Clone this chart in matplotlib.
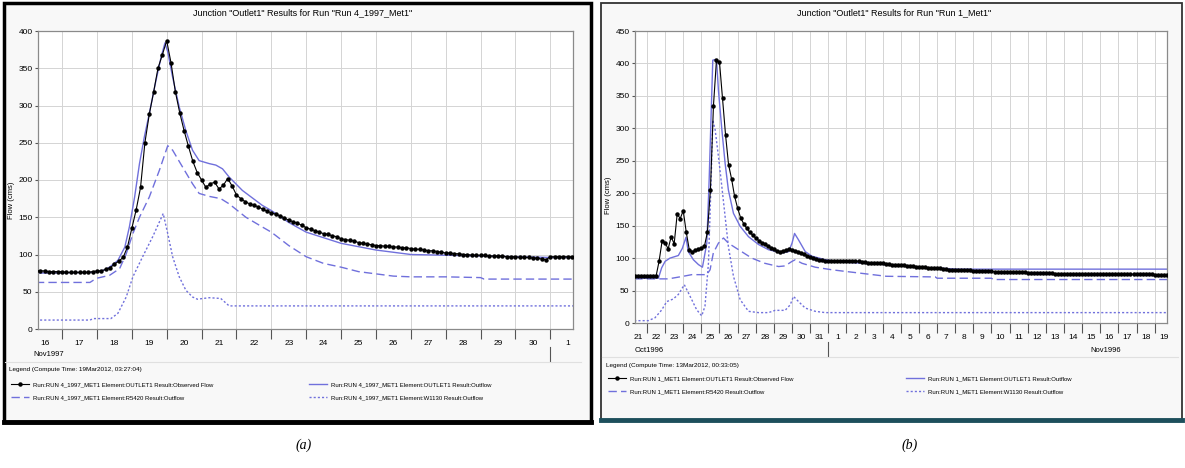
import numpy as np
import matplotlib
matplotlib.use("Agg")
import matplotlib.pyplot as plt
from matplotlib.patches import Rectangle
from matplotlib.lines import Line2D
from matplotlib.transforms import blended_transform_factory

plt.rcParams['font.family'] = ['Liberation Sans Narrow', 'Liberation Sans', 'DejaVu Sans']

# ---------------- (a) Run 4_1997_Met1, Nov 1997 (x = day of November) ----------------
obs_a_start, obs_a_step = 16.25, 0.125
obs_a = [
    78, 78, 78, 77, 77, 77,
    77, 76, 76, 76, 76, 76, 76, 77,
    78, 78, 80, 82, 87, 91, 96, 110,
    135, 160, 190, 250, 288, 318, 350, 368,
    387, 357, 318, 290, 266, 245, 225, 210,
    200, 190, 195, 197, 188, 193, 202, 192,
    180, 175, 171, 168, 166, 164, 161, 158,
    156, 154, 152, 149, 146, 144, 142, 139,
    136, 134, 132, 130, 128, 127, 125, 124,
    121, 120, 119, 118, 116, 115, 114, 113,
    112, 112, 111, 111, 110, 110, 109, 109,
    108, 107, 107, 106, 105, 105, 104, 103,
    102, 102, 101, 101, 100, 100, 99, 99,
    99, 99, 98, 98, 98, 98, 97, 97,
    97, 96, 96, 96, 95, 95, 94, 93,
    97, 97, 97, 97, 97, 97, 97,
]
out_a_t = [16.25, 17.9, 18.2, 18.36, 18.6, 18.8, 18.93, 19.08, 19.22, 19.36, 19.5, 19.69, 19.84,
           19.95, 20.03, 20.17, 20.36, 20.55, 20.74, 20.93, 21.22, 21.41, 21.6, 21.79, 22.17,
           22.74, 23.0, 23.5, 24.0, 25.0, 26.0, 27.0, 28.0, 29.0, 30.0, 31.0, 31.75]
out_a = [75, 76, 79, 83, 92, 110, 137, 177, 222, 258, 289, 333, 365,
         384, 372, 338, 298, 266, 240, 226, 222, 220, 215, 204, 186,
         166, 159, 143, 130, 115, 106, 100, 99, 98, 97, 96, 96]
r5420_a_t = [16.25, 17.8, 17.98, 18.36, 18.65, 18.84, 19.03, 19.22, 19.5, 19.79, 20.03, 20.17,
             20.46, 20.74, 20.93, 21.22, 21.55, 21.79, 22.27, 22.74, 23.0, 23.5, 24.0, 24.5,
             25.0, 25.5, 26.0, 26.5, 27.0, 28.0, 29.0, 29.1, 31.75]
r5420_a = [62.5, 62.5, 68, 72, 81, 101, 128, 150, 177, 213, 246, 240,
           217, 195, 182, 178, 175, 168, 150, 137, 130, 112, 97, 88,
           83, 77, 74, 71, 70, 70, 69, 67, 67]
w1130_a_t = [16.25, 17.8, 17.9, 18.4, 18.6, 18.84, 19.03, 19.31, 19.6, 19.9, 20.03, 20.17,
             20.36, 20.55, 20.74, 20.88, 21.22, 21.55, 21.79, 31.75]
w1130_a = [12, 12, 14, 14, 21, 43, 70, 97, 124, 155, 128, 97,
           70, 52, 43, 40, 42, 41, 31, 31]
days_a = list(range(16, 31)) + [1]

# ---------------- (b) Run 1_Met1, Oct-Nov 1996 (x = days since 30 Sep) ----------------
obs_b_start, obs_b_step = 21 + 2 / 6, 1 / 6
obs_b = [
    73, 73, 73, 72,
    72, 72, 73, 72, 95, 126,
    124, 114, 133, 122, 168, 161,
    173, 140, 113, 110, 112, 114,
    115, 118, 140, 205, 335, 405,
    402, 347, 290, 244, 222, 195,
    177, 162, 153, 146, 140, 135,
    131, 127, 124, 121, 118, 116,
    114, 111, 110, 111, 112, 114,
    112, 111, 110, 108, 106, 104,
    102, 100, 99, 97.5, 97, 96,
    96, 96, 96, 96, 96, 96,
    96, 95, 95, 95, 95, 94,
    94, 93, 93, 93, 92, 92,
    92, 91, 91, 90, 90, 90,
    89, 89, 88, 88, 88, 87,
    87, 86, 86, 85, 85, 85,
    84, 84, 83, 83, 82, 82,
    82, 81, 81, 81, 81, 81,
    80, 80, 80, 80, 80, 80,
    80, 79, 79, 79, 79, 78,
    78, 78, 78, 78, 78, 78,
    77, 77, 77, 77, 77, 77,
    77, 77, 77, 76, 76, 76,
    76, 76, 76, 76, 76, 76,
    76, 76, 76, 76, 76, 76,
    76, 75, 75, 75, 75, 75,
    75, 75, 75, 75, 75, 75,
    75, 75, 75, 75, 75, 75,
    74, 74, 74, 74, 74,
]
out_b_t = [21.3, 22.63, 22.81, 23.0, 23.27, 23.73, 23.95, 24.15, 24.28, 24.56, 24.84, 25.06,
           25.3, 25.43, 25.54, 25.63, 25.76, 25.85, 25.94, 26.13, 26.31, 26.49, 26.77, 27.14,
           27.6, 28.15, 28.7, 29.44, 29.81, 30.0, 30.14, 30.36, 30.73, 31.1, 31.83, 32.75,
           35.15, 37.0, 39.2, 50.7]
out_b = [69, 69, 85, 95, 100, 104, 115, 132, 110, 97.5, 90, 86,
         123, 221, 323, 405, 406, 400, 359, 298, 246, 205, 169, 149,
         133, 121, 113, 108, 110, 123, 138, 128, 110, 103, 97.5, 94,
         90, 86, 83, 83]
r5420_b_t = [21.3, 23.18, 24.0, 24.47, 25.3, 25.48, 25.66, 25.94, 26.22, 26.49, 27.05, 27.78,
             28.5, 29.26, 29.62, 30.0, 30.18, 30.55, 31.28, 32.2, 33.7, 35.2, 37.9, 38.0,
             41.0, 41.1, 50.7]
r5420_b = [68, 68, 72, 74.5, 74.5, 82, 108, 123, 131, 123, 113, 100,
           92, 87, 88, 95, 97.5, 92, 86, 82, 77, 72, 71, 69,
           69, 67, 67]
w1130_b_t = [21.3, 22.07, 22.44, 22.81, 23.09, 23.45, 23.73, 24.06, 24.38, 24.74, 25.02, 25.2,
             25.39, 25.54, 25.63, 25.76, 25.94, 26.13, 26.31, 26.49, 26.77, 27.14, 27.6, 28.15,
             28.7, 29.07, 29.62, 29.9, 30.08, 30.36, 30.73, 31.28, 31.83, 50.7]
w1130_b = [3.6, 3.6, 8, 20, 33, 37, 44, 59, 41, 20.5, 11, 26,
           92, 221, 313, 298, 257, 210, 164, 118, 72, 36, 18, 16,
           16, 19.5, 19.5, 28, 41, 33, 23, 18, 16, 16]
days_b = list(range(21, 32)) + list(range(1, 20))

W, H = 1185, 468
BLUE = '#7070dc'


def fx(px):
    return px / W


def fy(py):
    return 1 - py / H


fig = plt.figure(figsize=(W / 100, H / 100), dpi=100)
fig.patch.set_facecolor('white')

# panel frames
fig.add_artist(Rectangle((fx(4), fy(422)), fx(591) - fx(4), fy(3) - fy(422), transform=fig.transFigure,
                         facecolor='#f8f8f8', edgecolor='black', lw=2.5, zorder=0))
fig.add_artist(Line2D([fx(4), fx(591)], [fy(422), fy(422)], transform=fig.transFigure, color='black', lw=3.5))
fig.add_artist(Rectangle((fx(601), fy(421)), fx(1182) - fx(601), fy(3) - fy(421), transform=fig.transFigure,
                         facecolor='#f8f8f8', edgecolor='#333333', lw=1.3, zorder=0))
fig.add_artist(Line2D([fx(601), fx(1182)], [fy(420), fy(420)], transform=fig.transFigure, color='#1d4f5c', lw=3.5))


def make_panel(box, title, title_x, ymax, xlim, days, obs, obs_start, obs_step, out_t, out, r_t, r, w_t, w,
               run, stamp, month_lbl, month_lbl2, sep_x, layout):
    left, right, top, bottom = box
    ax = fig.add_axes([fx(left), fy(bottom), fx(right) - fx(left), fy(top) - fy(bottom)])
    ax.set_facecolor('white')
    x_obs = obs_start + obs_step * np.arange(len(obs))
    l_obs, = ax.plot(x_obs, obs, color='black', lw=0.8, marker='o', ms=2.2, zorder=5)
    l_out, = ax.plot(out_t, out, color=BLUE, lw=1.0)
    l_r, = ax.plot(r_t, r, color=BLUE, lw=1.0, ls=(0, (6, 3)))
    l_w, = ax.plot(w_t, w, color=BLUE, lw=1.0, ls=(0, (1.5, 1.5)))
    ax.set_xlim(*xlim)
    ax.set_ylim(0, ymax)
    ax.set_yticks(np.arange(0, ymax + 1, 50))
    first = int(np.ceil(xlim[0]))
    bounds = np.arange(first, int(xlim[1]) + 1)
    centers = np.arange(first - 1, first - 1 + len(days)) + 0.5
    ax.set_xticks(bounds)
    ax.set_xticklabels([])
    ax.set_xticks(centers, minor=True)
    ax.set_xticklabels([str(d) for d in days], minor=True)
    ax.tick_params(which='major', axis='x', length=7, color='#555555', width=0.8)
    ax.tick_params(which='minor', axis='x', length=0, pad=8, labelsize=6)
    ax.tick_params(axis='y', length=2.5, labelsize=6, color='#555555', pad=1.5)
    ax.grid(True, which='major', color='#d4d4d4', lw=0.7)
    ax.set_axisbelow(True)
    for s in ax.spines.values():
        s.set_color('#8a8a8a')
        s.set_linewidth(0.9)

    fig.text(fx(title_x), fy(13), title, ha='center', va='center', fontsize=6.5)
    fig.text(fx(layout['ylab_x']), fy(layout['ylab_y']), 'Flow (cms)', rotation=90,
             ha='center', va='center', fontsize=5.5)
    bt = blended_transform_factory(ax.transData, fig.transFigure)
    ax.text(month_lbl[0], fy(layout['month_y']), month_lbl[1], transform=bt, ha='center', va='center',
            fontsize=5.5)
    if month_lbl2:
        ax.text(month_lbl2[0], fy(layout['month_y']), month_lbl2[1], transform=bt, ha='center', va='center',
                fontsize=5.5)
    ax.plot([sep_x, sep_x], [fy(layout['month_y'] - 8), fy(layout['month_y'] + 6)], transform=bt,
            color='#555555', lw=0.8, clip_on=False)

    x0 = layout['x0']
    fig.add_artist(Line2D([fx(x0 - 4), fx(x0 + 572)], [fy(layout['head_y'] - 8), fy(layout['head_y'] - 8)],
                          transform=fig.transFigure, color='#e0e0e0', lw=0.8))
    fig.text(fx(x0), fy(layout['head_y']), 'Legend (Compute Time: %s)' % stamp, ha='left', va='center',
             fontsize=4.6)
    pre = 'Run:%s Element:' % run
    col1 = [(l_obs, pre + 'OUTLET1 Result:Observed Flow'), (l_r, pre + 'R5420 Result:Outflow')]
    col2 = [(l_out, pre + 'OUTLET1 Result:Outflow'), (l_w, pre + 'W1130 Result:Outflow')]
    for cx, col in ((x0 + 2, col1), (x0 + 300, col2)):
        fig.legend([c[0] for c in col], [c[1] for c in col], loc='upper left',
                   bbox_to_anchor=(fx(cx), fy(layout['row_y'] - 7)), bbox_transform=fig.transFigure,
                   frameon=False, fontsize=4.3, handlelength=3.0, handletextpad=0.7, labelspacing=1.35,
                   borderpad=0, borderaxespad=0)
    return ax


make_panel((38, 573, 31, 329), 'Junction "Outlet1" Results for Run "Run 4_1997_Met1"', 303, 400,
           (16.31, 31.65), days_a, obs_a, obs_a_start, obs_a_step, out_a_t, out_a, r5420_a_t, r5420_a,
           w1130_a_t, w1130_a, 'RUN 4_1997_MET1', '19Mar2012, 03:27:04', (16.62, 'Nov1997'), None, 31,
           dict(ylab_x=12, ylab_y=200, month_y=355, head_y=370, row_y=389, x0=9))

make_panel((635, 1167, 31, 323), 'Junction "Outlet1" Results for Run "Run 1_Met1"', 894, 450,
           (21.34, 50.68), days_b, obs_b, obs_b_start, obs_b_step, out_b_t, out_b, r5420_b_t, r5420_b,
           w1130_b_t, w1130_b, 'RUN 1_MET1', '13Mar2012, 00:33:05', (22.15, 'Oct1996'), (47.3, 'Nov1996'), 32,
           dict(ylab_x=609, ylab_y=195, month_y=350, head_y=365, row_y=383, x0=606))

fig.text(fx(304), fy(445), '(a)', ha='center', va='center', fontsize=10, style='italic',
         family=['Liberation Serif', 'DejaVu Serif'])
fig.text(fx(910), fy(445), '(b)', ha='center', va='center', fontsize=10, style='italic',
         family=['Liberation Serif', 'DejaVu Serif'])

fig.savefig('out.png', dpi=100)
